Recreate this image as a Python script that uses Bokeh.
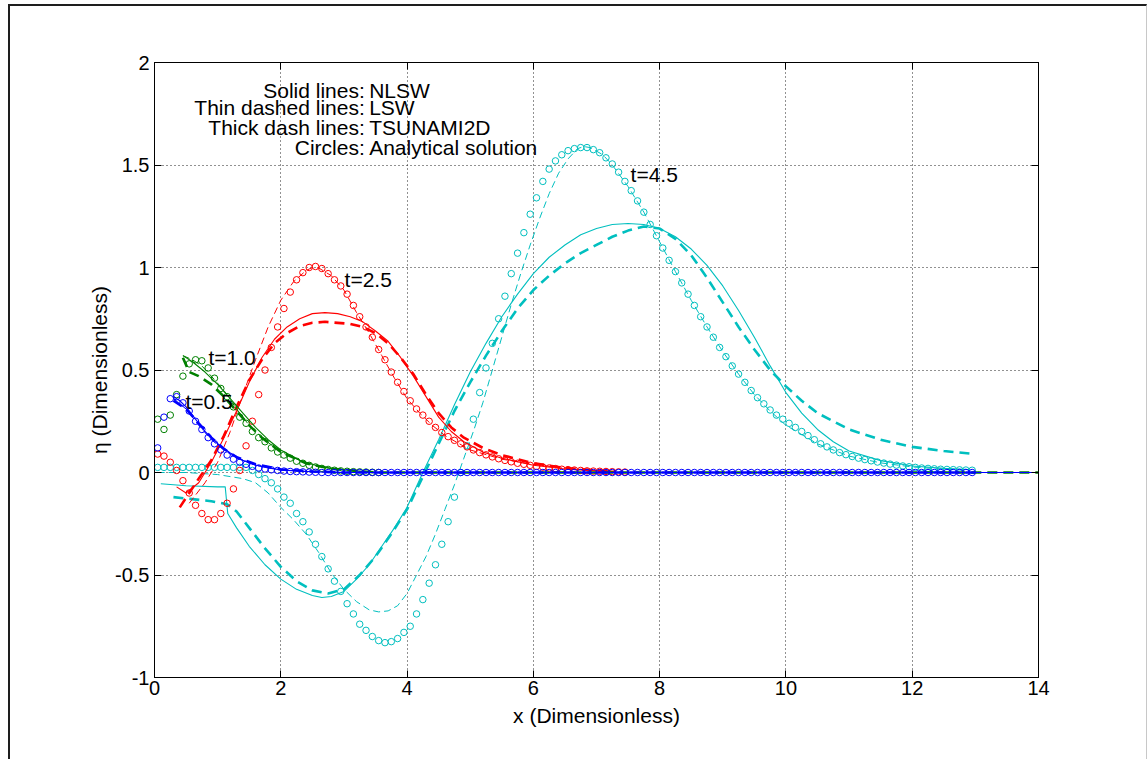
import numpy as np
from bokeh.plotting import figure
from bokeh.models import Range1d, LinearAxis, FixedTicker, ColumnDataSource
from bokeh.layouts import column
from bokeh.core.properties import value
from bokeh.embed import file_html
from bokeh.resources import INLINE

FONT = "Liberation Sans"

# ---------------- axes / ticks ----------------
x_ticks = [0, 2, 4, 6, 8, 10, 12, 14]
x_tick_labels = ["0", "2", "4", "6", "8", "10", "12", "14"]
y_ticks = [-1, -0.5, 0, 0.5, 1, 1.5, 2]
y_tick_labels = ["-1", "-0.5", "0", "0.5", "1", "1.5", "2"]

# ---------------- colours per time ----------------
times = ["t=0.5", "t=1.0", "t=2.5", "t=4.5"]
colors = {"t=0.5": "#0000FF", "t=1.0": "#008000", "t=2.5": "#FF0000", "t=4.5": "#00BFBF"}

# ---------------- analytical solution (circles) ----------------
x_analytical = np.round(0.05 + 0.1 * np.arange(130), 2)

ana_05 = [0.12, 0.27, 0.36, 0.37, 0.34, 0.30, 0.25, 0.21, 0.17, 0.14,
          0.11, 0.085, 0.065, 0.05, 0.04, 0.03, 0.022, 0.017, 0.013, 0.01,
          0.007, 0.005, 0.004, 0.003, 0.002, 0.001, 0, 0, 0, 0,
          0, 0, 0, 0, 0, 0, 0, 0, 0, 0,
          0, 0, 0, 0, 0, 0, 0, 0, 0, 0,
          0, 0, 0, 0, 0, 0, 0, 0, 0, 0,
          0, 0, 0, 0, 0, 0, 0, 0, 0, 0,
          0, 0, 0, 0, 0, 0, 0, 0, 0, 0,
          0, 0, 0, 0, 0, 0, 0, 0, 0, 0,
          0, 0, 0, 0, 0, 0, 0, 0, 0, 0,
          0, 0, 0, 0, 0, 0, 0, 0, 0, 0,
          0, 0, 0, 0, 0, 0, 0, 0, 0, 0,
          0, 0, 0, 0, 0, 0, 0, 0, 0, 0]

ana_10 = [0.26, 0.21, 0.28, 0.38, 0.47, 0.53, 0.55, 0.545, 0.51, 0.46,
          0.41, 0.37, 0.32, 0.27, 0.24, 0.2, 0.17, 0.15, 0.12, 0.1,
          0.085, 0.07, 0.055, 0.045, 0.035, 0.027, 0.02, 0.015, 0.011, 0.008,
          0.006, 0.004, 0.003, 0.002, 0.001, 0.0]

ana_25 = [0.09, 0.08, 0.05, 0.01, -0.04, -0.1, -0.16, -0.2, -0.23, -0.23,
          -0.2, -0.15, -0.08, 0.01, 0.13, 0.25, 0.38, 0.5, 0.61, 0.71,
          0.8, 0.88, 0.94, 0.975, 1.0, 1.005, 0.995, 0.97, 0.94, 0.91,
          0.87, 0.815, 0.76, 0.71, 0.66, 0.6, 0.55, 0.49, 0.44, 0.395,
          0.35, 0.31, 0.28, 0.25, 0.22, 0.195, 0.175, 0.157, 0.14, 0.125,
          0.11, 0.097, 0.086, 0.076, 0.067, 0.059, 0.052, 0.045, 0.04, 0.035,
          0.03, 0.026, 0.022, 0.019, 0.016, 0.014, 0.012, 0.01, 0.008, 0.007,
          0.006, 0.005, 0.004, 0.003, 0.002]

ana_45 = [0.025, 0.025, 0.025, 0.025, 0.025, 0.025, 0.025, 0.025, 0.025, 0.025,
          0.025, 0.025, 0.025, 0.025, 0.025, 0.01, -0.01, -0.03, -0.05, -0.08,
          -0.12, -0.15, -0.2, -0.24, -0.29, -0.35, -0.41, -0.47, -0.53, -0.58,
          -0.64, -0.69, -0.74, -0.77, -0.8, -0.82, -0.83, -0.825, -0.81, -0.78,
          -0.75, -0.69, -0.62, -0.54, -0.45, -0.35, -0.24, -0.12, 0.0, 0.13,
          0.26, 0.39, 0.51, 0.63, 0.75, 0.86, 0.97, 1.07, 1.17, 1.26,
          1.34, 1.42, 1.48, 1.52, 1.55, 1.57, 1.58, 1.585, 1.585, 1.575,
          1.56, 1.535, 1.505, 1.465, 1.42, 1.375, 1.325, 1.27, 1.21, 1.155,
          1.095, 1.035, 0.98, 0.925, 0.87, 0.815, 0.76, 0.71, 0.66, 0.61,
          0.565, 0.52, 0.48, 0.44, 0.4, 0.365, 0.335, 0.305, 0.28, 0.26,
          0.24, 0.22, 0.2, 0.18, 0.16, 0.14, 0.125, 0.11, 0.097, 0.087,
          0.078, 0.07, 0.063, 0.057, 0.051, 0.046, 0.041, 0.036, 0.032, 0.028,
          0.025, 0.022, 0.02, 0.018, 0.016, 0.015, 0.014, 0.013, 0.012, 0.011]

# ---------------- NLSW (solid lines) ----------------
nlsw_05_x = [0.3, 0.4, 0.5, 0.6, 0.7, 0.8, 0.9, 1.0, 1.2, 1.4, 1.6, 1.8, 2.0, 2.3, 2.6, 3.0, 14.0]
nlsw_05_y = [0.37, 0.35, 0.32, 0.28, 0.24, 0.2, 0.17, 0.14, 0.095, 0.06, 0.037, 0.022, 0.013, 0.006, 0.003, 0.0, 0.0]
nlsw_10_x = [0.45, 0.6, 0.8, 1.0, 1.2, 1.4, 1.6, 1.8, 2.0, 2.3, 2.6, 3.0, 3.5, 14.0]
nlsw_10_y = [0.57, 0.54, 0.49, 0.43, 0.36, 0.29, 0.22, 0.16, 0.11, 0.06, 0.03, 0.012, 0.0, 0.0]
nlsw_25_x = [0.35, 0.5, 0.7, 0.9, 1.1, 1.3, 1.5, 1.7, 1.9, 2.1, 2.3, 2.5, 2.7, 2.9, 3.1, 3.3, 3.5,
             3.7, 3.9, 4.1, 4.3, 4.5, 4.7, 4.9, 5.2, 5.5, 6.0, 6.5, 7.0, 7.3]
nlsw_25_y = [-0.07, -0.1, -0.05, 0.05, 0.17, 0.3, 0.44, 0.56, 0.65, 0.71, 0.75, 0.775, 0.78, 0.775, 0.76,
             0.735, 0.69, 0.64, 0.56, 0.47, 0.37, 0.27, 0.2, 0.15, 0.1, 0.07, 0.035, 0.017, 0.008, 0.005]
nlsw_45_x = [0.1, 0.5, 1.0, 1.12, 1.16, 1.3, 1.5, 1.75, 2.0, 2.25, 2.5, 2.65, 2.8, 3.0, 3.2, 3.4, 3.6,
             3.8, 4.0, 4.25, 4.5, 4.75, 5.0, 5.25, 5.5, 5.75, 6.0, 6.25, 6.5, 6.75, 7.0, 7.25, 7.5,
             7.75, 8.0, 8.25, 8.5, 8.75, 9.0, 9.25, 9.5, 9.75, 10.0, 10.25, 10.5, 10.75, 11.0, 11.5,
             12.0, 12.5, 12.9]
nlsw_45_y = [-0.055, -0.065, -0.07, -0.07, -0.2, -0.27, -0.36, -0.45, -0.52, -0.57, -0.6, -0.61, -0.605,
             -0.58, -0.52, -0.45, -0.36, -0.27, -0.17, 0.0, 0.16, 0.33, 0.49, 0.63, 0.76, 0.87, 0.97,
             1.05, 1.11, 1.16, 1.19, 1.21, 1.215, 1.21, 1.19, 1.15, 1.09, 1.01, 0.91, 0.79, 0.66, 0.52,
             0.39, 0.29, 0.21, 0.15, 0.105, 0.058, 0.032, 0.02, 0.015]

# ---------------- LSW (thin dashed lines) ----------------
lsw_05_x = [0.3, 0.5, 0.7, 0.9, 1.1, 1.3, 1.6, 2.0, 2.5, 3.0, 13.0]
lsw_05_y = [0.36, 0.31, 0.23, 0.16, 0.11, 0.07, 0.035, 0.013, 0.004, 0.0, 0.0]
lsw_10_x = [0.45, 0.6, 0.75, 0.9, 1.1, 1.3, 1.5, 1.7, 2.0, 2.4, 2.8, 3.5, 13.0]
lsw_10_y = [0.57, 0.55, 0.52, 0.47, 0.4, 0.31, 0.23, 0.17, 0.1, 0.045, 0.018, 0.0, 0.0]
lsw_25_x = [0.55, 0.8, 1.0, 1.2, 1.4, 1.6, 1.8, 2.0, 2.2, 2.4, 2.5, 2.6, 2.8, 3.0, 3.2, 3.4, 3.6,
            3.8, 4.0, 4.2, 4.4, 4.6, 5.0, 5.5, 6.0, 6.5, 7.0, 7.3]
lsw_25_y = [-0.15, -0.05, 0.05, 0.2, 0.38, 0.55, 0.71, 0.84, 0.93, 0.985, 1.0, 0.998, 0.96, 0.89, 0.78,
            0.68, 0.57, 0.46, 0.36, 0.29, 0.23, 0.18, 0.11, 0.065, 0.04, 0.02, 0.01, 0.006]
lsw_45_x = [0.05, 0.5, 1.0, 1.4, 1.6, 1.8, 2.0, 2.2, 2.4, 2.6, 2.8, 3.0, 3.2, 3.4, 3.55, 3.7, 3.85,
            4.0, 4.15, 4.3, 4.45, 4.6, 4.75, 4.9, 5.05, 5.2, 5.35, 5.5, 5.65, 5.8, 5.95, 6.1, 6.25,
            6.4, 6.55, 6.7, 6.8, 6.9, 7.1, 7.25, 7.5, 7.75, 8.0, 8.25, 8.5, 8.75, 9.0, 9.25, 9.5,
            9.75, 10.0, 10.5, 11.0, 11.5, 12.0, 12.5, 12.9]
lsw_45_y = [0.0, 0.0, -0.01, -0.03, -0.05, -0.1, -0.17, -0.23, -0.3, -0.39, -0.49, -0.57, -0.63, -0.67,
            -0.68, -0.675, -0.65, -0.59, -0.5, -0.41, -0.3, -0.18, -0.06, 0.07, 0.2, 0.34, 0.5, 0.66,
            0.82, 0.97, 1.11, 1.24, 1.36, 1.46, 1.53, 1.58, 1.59, 1.585, 1.55, 1.5, 1.395, 1.27,
            1.125, 0.98, 0.84, 0.71, 0.59, 0.48, 0.38, 0.3, 0.23, 0.14, 0.08, 0.047, 0.027, 0.016, 0.01]

# ---------------- TSUNAMI2D (thick dashed lines) ----------------
ts_05_x = [0.3, 0.5, 0.7, 0.9, 1.1, 1.3, 1.6, 2.0, 2.5, 3.0, 13.0]
ts_05_y = [0.35, 0.31, 0.24, 0.17, 0.115, 0.075, 0.04, 0.015, 0.005, 0.0, 0.0]
ts_10_x = [0.45, 0.55, 0.7, 0.9, 1.1, 1.3, 1.5, 1.7, 2.0, 2.4, 2.8, 3.5, 14.0]
ts_10_y = [0.56, 0.49, 0.47, 0.43, 0.37, 0.3, 0.23, 0.17, 0.1, 0.045, 0.018, 0.0, 0.0]
ts_25_x = [0.4, 0.55, 0.7, 0.9, 1.1, 1.3, 1.5, 1.7, 1.9, 2.1, 2.3, 2.5, 2.7, 2.9, 3.1, 3.3, 3.5,
           3.7, 3.9, 4.1, 4.3, 4.5, 4.7, 4.9, 5.2, 5.5, 6.0, 6.5, 7.0, 7.3]
ts_25_y = [-0.17, -0.1, -0.03, 0.06, 0.18, 0.32, 0.45, 0.55, 0.63, 0.68, 0.715, 0.73, 0.735, 0.73,
           0.725, 0.71, 0.68, 0.63, 0.56, 0.48, 0.38, 0.29, 0.22, 0.17, 0.12, 0.085, 0.045, 0.022,
           0.01, 0.006]
ts_45_x = [0.3, 0.6, 0.9, 1.15, 1.3, 1.5, 1.75, 2.0, 2.25, 2.5, 2.75, 3.0, 3.25, 3.5, 3.75, 4.0,
           4.25, 4.5, 4.75, 5.0, 5.25, 5.5, 5.75, 6.0, 6.25, 6.5, 6.75, 7.0, 7.25, 7.5, 7.75, 8.0,
           8.25, 8.5, 8.75, 9.0, 9.25, 9.5, 9.75, 10.0, 10.25, 10.5, 10.75, 11.0, 11.5, 12.0, 12.5, 13.0]
ts_45_y = [-0.12, -0.13, -0.14, -0.155, -0.19, -0.27, -0.37, -0.46, -0.53, -0.575, -0.59, -0.57,
           -0.5, -0.41, -0.3, -0.18, -0.02, 0.14, 0.3, 0.44, 0.57, 0.69, 0.8, 0.89, 0.96, 1.02,
           1.07, 1.11, 1.15, 1.18, 1.2, 1.19, 1.14, 1.06, 0.95, 0.83, 0.71, 0.6, 0.5, 0.42, 0.35,
           0.29, 0.25, 0.21, 0.16, 0.125, 0.105, 0.09]

# ---------------- text ----------------
legend_left = ["Solid lines:", "Thin dashed lines:", "Thick dash lines:", "Circles:"]
legend_right = ["NLSW", "LSW", "TSUNAMI2D", "Analytical solution"]
legend_y = [1.863, 1.779, 1.685, 1.587]
legend_colon_x = 3.33
legend_value_x = 3.40

time_label_x = [0.49, 0.855, 3.01, 7.54]
time_label_y = [0.346, 0.561, 0.941, 1.454]

x_label = "x (Dimensionless)"
y_label = "\u03b7 (Dimensionless)"

# ---------------- figure ----------------
p = figure(x_range=Range1d(0, 14), y_range=Range1d(-1, 2),
           frame_width=884, frame_height=615,
           min_border_left=144, min_border_right=108, min_border_top=56, min_border_bottom=82,
           output_backend="svg", toolbar_location=None,
           x_axis_label=x_label, y_axis_label=y_label)
p.background_fill_color = "white"
p.border_fill_color = "white"
p.outline_line_color = "black"
p.outline_line_width = 1

p.xaxis.ticker = FixedTicker(ticks=x_ticks)
p.xaxis.major_label_overrides = dict(zip(x_ticks, x_tick_labels))
p.yaxis.ticker = FixedTicker(ticks=y_ticks)
p.yaxis.major_label_overrides = dict(zip(y_ticks, y_tick_labels))

for ax in list(p.xaxis) + list(p.yaxis):
    ax.major_label_text_font = FONT
    ax.major_label_text_font_size = "20px"
    ax.major_label_text_color = "black"
    ax.axis_label_text_font = FONT
    ax.axis_label_text_font_size = "21px"
    ax.axis_label_text_font_style = "normal"
    ax.axis_label_text_color = "black"
    ax.major_tick_in = 7
    ax.major_tick_out = 0
    ax.minor_tick_in = 0
    ax.minor_tick_out = 0
    ax.axis_line_color = "black"
    ax.major_tick_line_color = "black"
p.xaxis.major_label_standoff = 3
p.xaxis.axis_label_standoff = 6
p.yaxis.major_label_standoff = 5
p.yaxis.axis_label_standoff = 1

# box axes on top and right: tick marks only (drawn as minor ticks, so no labels)
top_ax = LinearAxis(ticker=FixedTicker(ticks=[], minor_ticks=x_ticks), major_tick_in=0, major_tick_out=0,
                    minor_tick_in=7, minor_tick_out=0, axis_line_color="black",
                    minor_tick_line_color="black")
right_ax = LinearAxis(ticker=FixedTicker(ticks=[], minor_ticks=y_ticks), major_tick_in=0, major_tick_out=0,
                      minor_tick_in=7, minor_tick_out=0, axis_line_color="black",
                      minor_tick_line_color="black")
p.add_layout(top_ax, "above")
p.add_layout(right_ax, "right")

p.xgrid.ticker = FixedTicker(ticks=x_ticks)
p.ygrid.ticker = FixedTicker(ticks=y_ticks)
for g in (p.xgrid, p.ygrid):
    g.grid_line_color = "#222222"
    g.grid_line_dash = "1 3"
    g.grid_line_width = 1

# ---------------- data drawing (t=4.5 first, t=0.5 last) ----------------
series = [
    ("t=4.5", nlsw_45_x, nlsw_45_y, lsw_45_x, lsw_45_y, ts_45_x, ts_45_y, ana_45),
    ("t=2.5", nlsw_25_x, nlsw_25_y, lsw_25_x, lsw_25_y, ts_25_x, ts_25_y, ana_25),
    ("t=1.0", nlsw_10_x, nlsw_10_y, lsw_10_x, lsw_10_y, ts_10_x, ts_10_y, ana_10),
    ("t=0.5", nlsw_05_x, nlsw_05_y, lsw_05_x, lsw_05_y, ts_05_x, ts_05_y, ana_05),
]
for t, nx, ny, lx, ly, tx, ty, ay in series:
    c = colors[t]
    p.line(tx, ty, line_color=c, line_width=2.6, line_dash="10 6")
    p.line(lx, ly, line_color=c, line_width=1, line_dash="7 4")
    p.line(nx, ny, line_color=c, line_width=1.1)
    p.scatter(list(x_analytical[:len(ay)]), ay, marker="circle", size=6.5,
              fill_color=None, line_color=c, line_width=1)

# ---------------- texts ----------------
src_left = ColumnDataSource(dict(x=[legend_colon_x] * 4, y=legend_y, text=legend_left))
src_right = ColumnDataSource(dict(x=[legend_value_x] * 4, y=legend_y, text=legend_right))
p.text(x="x", y="y", text="text", source=src_left, text_font=value(FONT),
       text_font_size=value("21px"), text_align="right", text_baseline="middle", text_color="black")
p.text(x="x", y="y", text="text", source=src_right, text_font=value(FONT),
       text_font_size=value("21px"), text_align="left", text_baseline="middle", text_color="black")

src_t = ColumnDataSource(dict(x=time_label_x, y=time_label_y, text=times))
p.text(x="x", y="y", text="text", source=src_t, text_font=value(FONT),
       text_font_size=value("21px"), text_align="left", text_baseline="middle", text_color="black")

root = column(p, styles={"border-left": "2px solid #1e1e1e", "border-top": "2px solid #1e1e1e",
                         "border-right": "1px solid #c8c8c8", "margin-left": "8px", "margin-top": "4px"})

open("out.html", "w").write(file_html(root, INLINE))
